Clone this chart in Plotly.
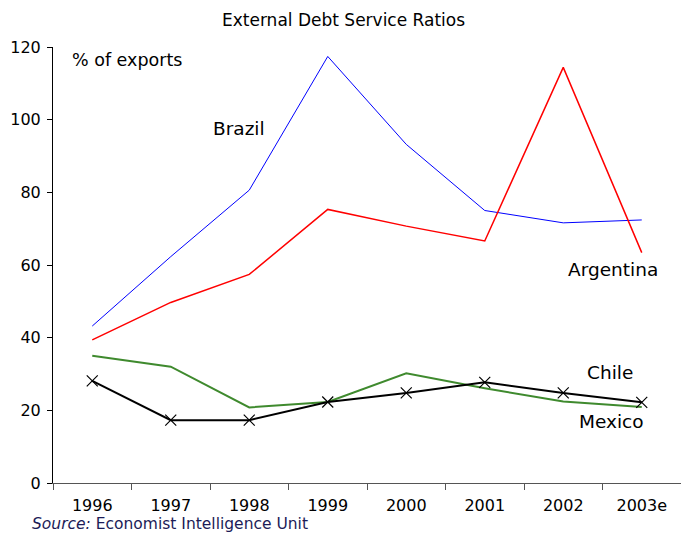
import plotly.graph_objects as go

years = ["1996", "1997", "1998", "1999", "2000", "2001", "2002", "2003e"]
brazil = [43.2, 62.3, 80.6, 117.4, 93.2, 75.0, 71.6, 72.4]
argentina = [39.4, 49.7, 57.4, 75.3, 70.7, 66.6, 114.4, 63.4]
chile = [35.0, 32.0, 20.8, 22.3, 30.2, 26.1, 22.4, 20.9]
mexico = [28.1, 17.3, 17.3, 22.3, 24.8, 27.7, 24.8, 22.2]

FONT = "DejaVu Sans"

fig = go.Figure()
fig.add_trace(go.Scatter(x=years, y=brazil, mode="lines", name="Brazil",
                         line=dict(color="#0000ff", width=1)))
fig.add_trace(go.Scatter(x=years, y=argentina, mode="lines", name="Argentina",
                         line=dict(color="#ff0000", width=1.5)))
fig.add_trace(go.Scatter(x=years, y=chile, mode="lines", name="Chile",
                         line=dict(color="#3f8a2e", width=2)))
fig.add_trace(go.Scatter(x=years, y=mexico, mode="lines+markers", name="Mexico",
                         line=dict(color="#000000", width=2),
                         marker=dict(symbol="x-thin", size=11,
                                     line=dict(color="#000000", width=1.2))))

# in-plot series labels: (text, category index, value, font size)
labels = [
    ("Brazil", 1.87, 97.7, 18.5),
    ("Argentina", 6.64, 58.9, 18.5),
    ("Chile", 6.6, 30.3, 18.5),
    ("Mexico", 6.61, 16.8, 18.5),
    ("% of exports", 0.44, 116.4, 17.5),
]
annotations = [
    dict(text=t, x=x, y=y, xref="x", yref="y", showarrow=False,
         xanchor="center", yanchor="middle",
         font=dict(family=FONT, size=s, color="#000000"))
    for t, x, y, s in labels
]
annotations.append(dict(text="External Debt Service Ratios", x=0.463, y=1.062,
                        xref="paper", yref="paper", showarrow=False,
                        xanchor="center", yanchor="middle",
                        font=dict(family=FONT, size=17, color="#000000")))
annotations.append(dict(text="<i>Source:</i> Economist Intelligence Unit",
                        x=-0.0366, y=-0.093, xref="paper", yref="paper",
                        xanchor="left", yanchor="middle", showarrow=False,
                        font=dict(family=FONT, size=15.5, color="#1c1c58")))

fig.update_layout(
    width=681, height=534,
    margin=dict(l=53, r=0, t=47, b=51),
    paper_bgcolor="white", plot_bgcolor="white",
    showlegend=False,
    annotations=annotations,
    font=dict(family=FONT, size=16, color="#000000"),
)
fig.update_xaxes(type="category", range=[-0.5, 7.5], tickson="boundaries",
                 ticks="outside", ticklen=6, tickcolor="#555555",
                 showline=True, linecolor="#555555", linewidth=1,
                 showgrid=False, zeroline=False, ticklabelstandoff=8,
                 tickfont=dict(family=FONT, size=16, color="#000000"))
fig.update_yaxes(range=[0, 120], dtick=20, ticks="outside", ticklen=5,
                 tickcolor="#000000", showline=True, linecolor="#000000",
                 linewidth=1, showgrid=False, zeroline=False,
                 ticklabelstandoff=3,
                 tickfont=dict(family=FONT, size=16, color="#000000"))

fig.write_html("out.html")
